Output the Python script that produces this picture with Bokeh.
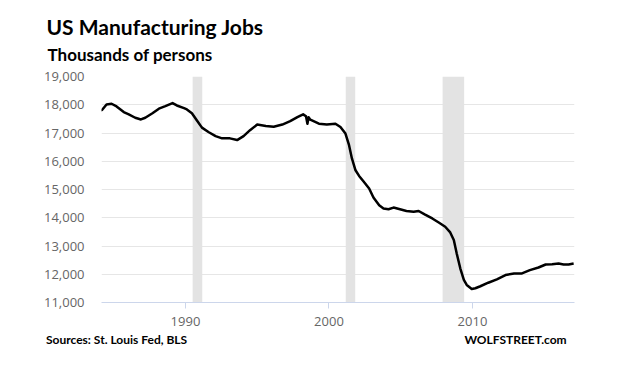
from bokeh.plotting import figure
from bokeh.models import Range1d, FixedTicker, NumeralTickFormatter, Title, LinearAxis
from bokeh.embed import file_html
from bokeh.resources import INLINE

# ---- data ----
YEARS = [1984.1, 1984.2, 1984.5, 1984.85, 1985.2, 1985.7, 1986.05, 1986.5, 1986.9,
         1987.2, 1987.7, 1988.15, 1988.6, 1989.1, 1989.4, 1989.9, 1990.1, 1990.45,
         1990.8, 1991.15, 1991.6, 1992.1, 1992.55, 1993.1, 1993.6, 1994.05, 1994.5,
         1995.0, 1995.6, 1996.15, 1996.75, 1997.3, 1997.8, 1998.2, 1998.4, 1998.5,
         1998.58, 1998.7, 1999.3, 1999.85, 2000.45, 2000.8, 2001.15, 2001.4, 2001.6,
         2001.85, 2002.1, 2002.4, 2002.8, 2003.1, 2003.5, 2003.8, 2004.15, 2004.5,
         2004.95, 2005.4, 2005.9, 2006.25, 2006.7, 2007.2, 2007.65, 2008.1, 2008.45,
         2008.7, 2008.9, 2009.15, 2009.4, 2009.6, 2009.95, 2010.2, 2010.55, 2011.1,
         2011.7, 2012.3, 2012.9, 2013.45, 2014.0, 2014.6, 2015.1, 2015.55, 2016.0,
         2016.35, 2016.7, 2017.05]
JOBS = [17800, 17823, 18010, 18035, 17940, 17740, 17660, 17540, 17480,
        17540, 17700, 17860, 17950, 18060, 17975, 17880, 17835, 17700,
        17445, 17190, 17035, 16890, 16810, 16810, 16750, 16890, 17100,
        17300, 17250, 17220, 17300, 17420, 17560, 17660, 17590, 17330,
        17560, 17470, 17330, 17300, 17330, 17210, 16980, 16570, 16100,
        15680, 15480, 15290, 15035, 14715, 14440, 14325, 14300, 14360,
        14300, 14240, 14210, 14240, 14110, 13975, 13830, 13680, 13480,
        13210, 12740, 12210, 11800, 11620, 11480, 11505, 11575, 11700,
        11820, 11970, 12030, 12030, 12145, 12240, 12345, 12355, 12380,
        12345, 12345, 12380]

REC_START = [1990.5, 2001.17, 2007.92]
REC_END = [1991.17, 2001.83, 2009.42]

Y_TICKS = [11000, 12000, 13000, 14000, 15000, 16000, 17000, 18000, 19000]
X_TICKS = [1990, 2000, 2010]
Y_MIN, Y_MAX = 11000, 19000

TITLE = "US Manufacturing Jobs"
SUBTITLE = "Thousands of persons"
SOURCE = "Sources: St. Louis Fed,  BLS"
BRAND = "WOLFSTREET.com"
FOOTER_AT = [1985.3, 2013.0]      # where the two footer notes are centred
FOOTER_TEXT = [SOURCE, BRAND]

AXIS_FONT = "Open Sans"
HEAD_FONT = "Lato"

p = figure(width=602, height=355, output_backend="svg", toolbar_location=None,
           x_range=Range1d(1984.15, 2017.11), y_range=Range1d(Y_MIN, Y_MAX),
           min_border_left=101, min_border_right=28, min_border_top=76,
           min_border_bottom=53)
p.outline_line_color = None
p.background_fill_color = "white"
p.border_fill_color = "white"

# ---- header (titles) ----
p.title.text = TITLE
p.title.align = "left"
p.title.offset = -55
p.title.standoff = 5
p.title.text_font = HEAD_FONT
p.title.text_font_size = "21px"
p.title.text_font_style = "bold"
p.title.text_color = "black"
# small spacer between the subtitle and the plot area
p.add_layout(Title(text=" ", text_font_size="1px", standoff=9), "above")
p.add_layout(Title(text=SUBTITLE, align="left", offset=-54, standoff=0,
                   text_font=HEAD_FONT, text_font_size="17px",
                   text_font_style="bold", text_color="black"), "above")

# ---- data ----
p.quad(left=REC_START, right=REC_END, bottom=Y_MIN, top=Y_MAX,
       fill_color="#e3e3e3", line_color=None)
p.line(YEARS, JOBS, line_color="black", line_width=2.5, line_join="round")

p.xgrid.grid_line_color = None
p.ygrid.grid_line_color = "#e6e6e6"
p.ygrid.grid_line_width = 1
p.ygrid.level = "underlay"

p.yaxis.ticker = FixedTicker(ticks=Y_TICKS)
p.yaxis.formatter = NumeralTickFormatter(format="0,0")
p.yaxis.axis_line_color = None
p.yaxis.major_tick_line_color = None
p.yaxis.minor_tick_line_color = None
p.yaxis.major_tick_out = 0
p.yaxis.major_tick_in = 0
p.yaxis.major_label_standoff = 17
p.yaxis.major_label_text_font = AXIS_FONT
p.yaxis.major_label_text_font_size = "13px"
p.yaxis.major_label_text_color = "#666666"

p.xaxis.ticker = FixedTicker(ticks=X_TICKS)
p.xaxis.axis_line_color = "#ccd6eb"
p.xaxis.axis_line_width = 1
p.xaxis.major_tick_line_color = "#ccd6eb"
p.xaxis.major_tick_out = 6
p.xaxis.major_tick_in = 0
p.xaxis.minor_tick_line_color = None
p.xaxis.major_label_standoff = 8
p.xaxis.major_label_text_font = AXIS_FONT
p.xaxis.major_label_text_font_size = "13px"
p.xaxis.major_label_text_color = "#666666"

# ---- footer: a bare extra axis carrying the two notes ----
foot = LinearAxis(ticker=FixedTicker(ticks=FOOTER_AT),
                  major_label_overrides={k: t for k, t in zip(FOOTER_AT, FOOTER_TEXT)})
foot.axis_line_color = None
foot.major_tick_line_color = None
foot.minor_tick_line_color = None
foot.major_tick_out = 0
foot.major_tick_in = 0
foot.major_label_standoff = 3
foot.major_label_text_font = HEAD_FONT
foot.major_label_text_font_style = "bold"
foot.major_label_text_font_size = "12px"
foot.major_label_text_color = "black"
p.add_layout(foot, "below")

open("out.html", "w").write(file_html(p, INLINE))
